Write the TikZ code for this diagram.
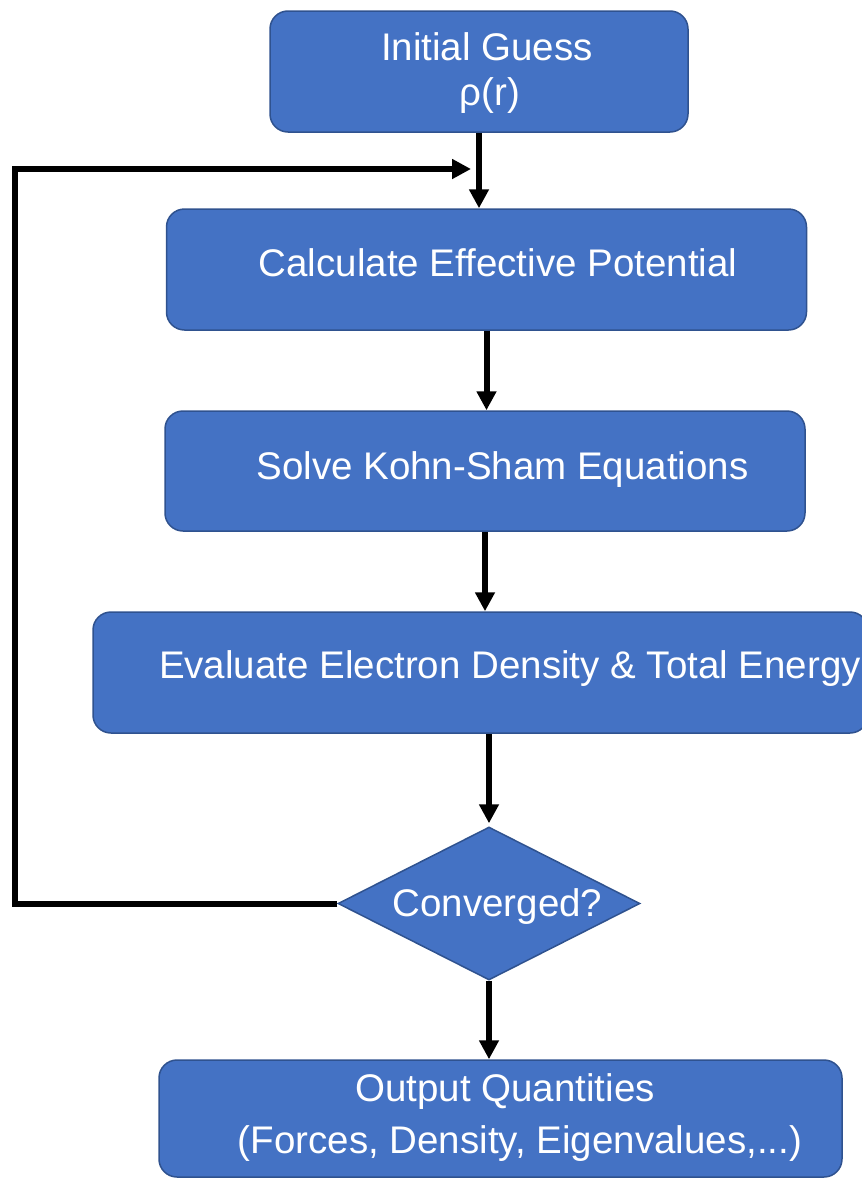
\documentclass[tikz,border=0pt]{standalone}
\usepackage{fontspec}
\setmainfont{Liberation Sans}
\usetikzlibrary{shapes.geometric,arrows.meta}
\definecolor{boxblue}{HTML}{4472C4}
\definecolor{boxborder}{HTML}{2F528F}
\newcommand\fs{\fontsize{38.5}{45}\selectfont}
\newcommand\tl[3]{\raisebox{#2}{\makebox[0pt]{\hspace*{#1}#3\hspace*{-#1}}}}
\tikzset{
  blk/.style={draw=boxborder, fill=boxblue, line width=1.5pt, rounded corners=18pt,
    text=white, font=\fs, inner sep=0pt, text height=0pt, text depth=0pt},
  dec/.style={diamond, draw=boxborder, fill=boxblue, line width=1.5pt,
    text=white, font=\fs, inner sep=0pt, text height=0pt, text depth=0pt},
  arr/.style={line width=6pt, line join=miter, -{Triangle[width=19pt,length=19pt]}}
}
\begin{document}
\begin{tikzpicture}[x=1pt,y=-1pt]
\useasboundingbox (0,0) rectangle (862,1178);
\node[blk, minimum width=418pt, minimum height=121pt] (init) at (479,71.5)
  {\tl{8pt}{11.5pt}{Initial Guess}\tl{11pt}{-33.5pt}{ρ(r)}};
\node[blk, minimum width=640pt, minimum height=121pt] (calc) at (486.5,269.5)
  {\tl{11.5pt}{-6.5pt}{Calculate Effective Potential}};
\node[blk, minimum width=640pt, minimum height=120pt] (solve) at (485,471)
  {\tl{17.5pt}{-8pt}{Solve Kohn-Sham Equations}};
\node[blk, minimum width=775pt, minimum height=121pt] (eval) at (480.5,672.5)
  {\tl{29.5pt}{-5.5pt}{Evaluate Electron Density \& Total Energy}};
\node[dec, minimum width=302pt, minimum height=153pt] (dia) at (489,903.5)
  {\tl{8.5pt}{-12.5pt}{Converged?}};
\node[blk, minimum width=683pt, minimum height=117pt] (out) at (500.5,1118.5)
  {\tl{4.5pt}{17.5pt}{Output Quantities}\tl{19.5pt}{-34.5pt}{(Forces, Density, Eigenvalues,...)}};
\coordinate (lc) at (15,169);
\coordinate (loopend) at (471,169);
\draw[arr] (init.south) -- (init.south |- calc.north);
\draw[arr] (calc.south) -- (calc.south |- solve.north);
\draw[arr] (solve.south) -- (solve.south |- eval.north);
\draw[arr, shorten >=3pt] (eval.south -| dia.north) -- (dia.north);
\draw[arr] (dia.south) -- (dia.south |- out.north);
\draw[arr] (dia.west) -| (lc) -- (loopend);
\end{tikzpicture}
\end{document}
